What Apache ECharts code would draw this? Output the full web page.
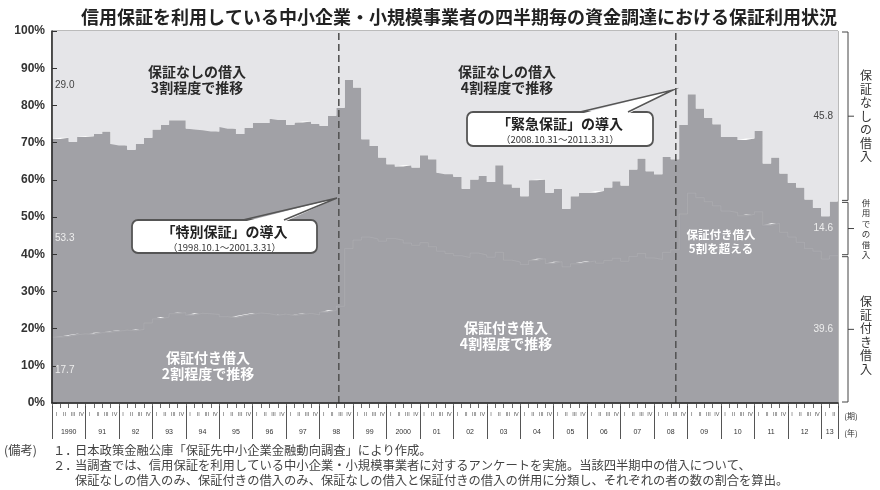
<!DOCTYPE html>
<html>
<head>
<meta charset="utf-8">
<script src="https://cdn.jsdelivr.net/npm/echarts@6/dist/echarts.min.js"></script>
<style>
html, body { margin: 0; padding: 0; background: #fff; }
#chart { width: 880px; height: 490px; }
</style>
</head>
<body>
<div id="chart"></div>
<script>
// Survey years and quarters (the last year only has two quarters so far)
const yearLabels = ['1990','91','92','93','94','95','96','97','98','99','2000','01','02','03','04','05','06','07','08','09','10','11','12','13'];
const quarterLabels = ['I','II','III','IV'];
const quartersInLastYear = 2;

// Share of firms (%) by type of borrowing in each quarter
const guaranteedOnly = [
  17.7,17.9,18.3,18.6,18.4,18.9,19.0,19.3,19.6,19.4,
  19.8,21.5,22.6,23.1,24.0,24.3,23.6,24.1,24.0,23.8,
  23.2,22.9,23.4,23.8,24.2,24.0,23.6,23.9,23.5,23.8,
  24.1,23.7,24.4,24.9,26.0,41.5,43.8,44.6,44.1,43.5,
  44.2,43.8,43.0,42.4,43.1,42.0,40.8,40.2,39.6,39.1,
  40.3,39.8,39.2,40.5,38.4,37.9,37.2,38.3,38.8,37.5,
  38.0,36.6,37.4,37.8,38.2,37.6,38.3,38.9,38.1,39.4,
  40.2,39.0,38.6,40.5,41.2,50.8,56.4,55.2,54.1,53.0,
  51.6,51.2,50.3,50.7,51.4,47.8,48.3,45.9,44.6,43.2,
  41.5,40.8,38.7,39.6
];
const combined = [
  53.3,53.4,51.9,52.9,53.3,53.4,54.0,50.3,49.6,48.7,
  49.9,49.8,50.9,51.7,52.0,51.7,50.2,49.4,49.3,49.2,
  51.0,50.8,48.9,50.1,51.1,51.3,52.8,52.2,51.3,51.6,
  51.6,51.4,50.1,52.3,53.4,45.4,41.0,26.3,25.0,22.5,
  20.0,19.8,20.9,20.9,23.5,23.5,21.1,21.3,21.2,18.5,
  19.8,21.2,20.2,23.4,20.4,20.0,18.4,21.6,21.3,19.0,
  19.6,15.6,18.2,18.7,18.3,19.4,19.6,20.7,20.4,23.4,
  25.5,23.3,22.9,25.7,24.3,23.9,26.6,24.0,22.6,21.9,
  20.0,20.4,20.4,20.4,21.7,16.6,17.7,15.8,14.6,14.7,
  13.2,11.7,11.5,14.6
];
const unguaranteedOnly = [
  29.0,28.7,29.8,28.5,28.3,27.7,27.0,30.4,30.8,31.9,
  30.3,28.7,26.5,25.2,24.0,24.0,26.2,26.5,26.7,27.0,
  25.8,26.3,27.7,26.1,24.7,24.7,23.6,23.9,25.2,24.6,
  24.3,24.9,25.5,22.8,20.6,13.1,15.2,29.1,30.9,34.0,
  35.8,36.4,36.1,36.7,33.4,34.5,38.1,38.5,39.2,42.4,
  39.9,39.0,40.6,36.1,41.2,42.1,44.4,40.1,39.9,43.5,
  42.4,47.8,44.4,43.5,43.5,43.0,42.1,40.4,41.5,37.2,
  34.3,37.7,38.5,33.8,34.5,25.3,17.0,20.8,23.3,25.1,
  28.4,28.4,29.3,28.9,26.9,35.6,34.0,38.3,40.8,42.1,
  45.3,47.5,49.8,45.8
];

// Start of the special / emergency guarantee programmes, on the quarter scale
const programmeStart = [34.3, 74.6];

const categories = [];
yearLabels.forEach((y, i) => {
  const n = i === yearLabels.length - 1 ? quartersInLastYear : 4;
  for (let q = 0; q < n; q++) categories.push(y + '-' + quarterLabels[q]);
});
const quarterCount = categories.length;

// Quarter boundaries (0 .. quarterCount) carry the stepped areas
const boundaries = [];
for (let i = 0; i <= quarterCount; i++) boundaries.push(String(i));
const stepped = arr => arr.concat([arr[arr.length - 1]]);

const DARK = '#a1a1a6';
const LIGHT = '#e5e5e8';
const INK = '#333';
const JP = '"Noto Sans CJK JP", "Noto Sans", sans-serif';
const NUM = '"Liberation Sans", "DejaVu Sans", sans-serif';

const chart = echarts.init(document.getElementById('chart'), null, { renderer: 'canvas' });

function yearLabelAt(v) {
  const k = (v - 2) / 4;
  if (Number.isInteger(k) && k < yearLabels.length - 1) return yearLabels[k];
  if (v === quarterCount - quartersInLastYear / 2) return yearLabels[yearLabels.length - 1];
  return '';
}

function band(name, values, color) {
  return {
    type: 'line', name: name, xAxisIndex: 3, stack: 'share', step: 'end',
    data: stepped(values), symbol: 'none', silent: true,
    lineStyle: { width: 0, opacity: 0 },
    areaStyle: { color: color, opacity: 1 }
  };
}

const series = [
  band('保証付き借入', guaranteedOnly, DARK),
  band('併用での借入', combined, DARK),
  band('保証なしの借入', unguaranteedOnly, LIGHT),
  // faint edge between guaranteed-only and combined borrowing, drawn over both bands
  {
    type: 'line', xAxisIndex: 3, step: 'end', data: stepped(guaranteedOnly),
    symbol: 'none', silent: true, z: 4,
    lineStyle: { color: DARK, width: 2 }
  },
  {
    type: 'line', xAxisIndex: 3, step: 'end', data: stepped(guaranteedOnly),
    symbol: 'none', silent: true, z: 4,
    lineStyle: { color: 'rgba(255,255,255,0.09)', width: 1 }
  }
];
programmeStart.forEach(q => {
  series.push({
    type: 'line', xAxisIndex: 1, data: [[q, 0], [q, 100]], symbol: 'none', silent: true, z: 5,
    lineStyle: { type: [7, 4], color: '#555', width: 1.6 }
  });
});

chart.setOption({
  animation: false,
  backgroundColor: '#fff',
  textStyle: { fontFamily: JP },
  title: {
    text: '信用保証を利用している中小企業・小規模事業者の四半期毎の資金調達における保証利用状況',
    left: 76, top: 3,
    textStyle: { fontSize: 18, fontWeight: 'bold', color: '#222', fontFamily: JP }
  },
  grid: {
    left: 52, right: 42, top: 31, bottom: 87,
    show: true, borderColor: '#777', borderWidth: 1, backgroundColor: 'transparent'
  },
  xAxis: [
    {
      type: 'category', data: categories, boundaryGap: true, z: 6,
      axisLine: { lineStyle: { color: '#222', width: 1.5 } },
      axisTick: { show: true, length: 5, lineStyle: { color: '#444', width: 0.8 } },
      axisLabel: { interval: 0, fontSize: 5.5, color: '#555', margin: 8, fontFamily: NUM,
        formatter: v => v.split('-')[1] },
      splitLine: { show: false }
    },
    {
      type: 'value', min: 0, max: quarterCount, interval: 1, position: 'bottom',
      axisLine: { show: false }, axisTick: { show: false }, splitLine: { show: false },
      axisLabel: { margin: 26, fontSize: 7, color: '#333', fontFamily: NUM, formatter: yearLabelAt }
    },
    {
      type: 'value', min: 0, max: quarterCount, interval: 4, position: 'bottom', offset: 3,
      axisLine: { show: false }, splitLine: { show: false }, axisLabel: { show: false },
      axisTick: { show: true, length: 33, lineStyle: { color: '#555', width: 1 } }
    },
    {
      type: 'category', data: boundaries, boundaryGap: false, show: false
    }
  ],
  yAxis: {
    type: 'value', min: 0, max: 100, interval: 10, z: 6,
    axisLine: { show: true, lineStyle: { color: '#222', width: 1.5 } },
    axisTick: { show: true, inside: true, length: 5, lineStyle: { color: '#333' } },
    splitLine: { show: false },
    axisLabel: { formatter: '{value}%', fontSize: 12, fontWeight: 'bold', color: INK, fontFamily: NUM, margin: 7 }
  },
  series: series
});

// ---- annotations ----
const toY = v => chart.convertToPixel({ yAxisIndex: 0 }, v);
const G = [];
function text(x, y, str, o) {
  o = o || {};
  G.push({
    type: 'text', x: x, y: y, silent: true, z: 20,
    style: {
      text: str, fill: o.fill || INK, fontSize: o.size || 12,
      fontWeight: o.weight || 'normal', fontFamily: o.family || JP,
      align: o.align || 'center', verticalAlign: 'middle',
      lineHeight: o.lh || undefined
    }
  });
}
function line(points, o) {
  o = o || {};
  G.push({ type: 'polyline', silent: true, z: 20, shape: { points: points },
    style: { stroke: o.stroke || '#444', lineWidth: o.w || 1, fill: null } });
}
function callout(box, tail, title, period) {
  G.push({ type: 'rect', silent: true, z: 20,
    shape: { x: box[0], y: box[1], width: box[2], height: box[3], r: 6 },
    style: { fill: '#fff', stroke: '#555', lineWidth: 1.8 } });
  G.push({ type: 'polygon', silent: true, z: 21,
    shape: { points: [[tail[0], box[1] + 2], [tail[1], box[1] + 2], tail[2]] },
    style: { fill: '#fff' } });
  G.push({ type: 'polyline', silent: true, z: 21,
    shape: { points: [[tail[0], box[1]], tail[2], [tail[1], box[1]]] },
    style: { stroke: '#555', lineWidth: 1.5, fill: null } });
  const cx = box[0] + box[2] / 2;
  G.push({ type: 'text', x: cx, y: box[1] + 12, silent: true, z: 22,
    style: { text: title, fill: '#222', fontSize: 14, fontWeight: 'bold', fontFamily: JP, align: 'center', verticalAlign: 'middle' } });
  G.push({ type: 'text', x: cx, y: box[1] + 27, silent: true, z: 22,
    style: { text: period, fill: '#333', fontSize: 9.5, fontFamily: JP, align: 'center', verticalAlign: 'middle' } });
}

// Period notes inside the plot
const headStyle = { size: 14, weight: 'bold', fill: '#2a2a2a', lh: 16 };
const whiteStyle = { size: 14, weight: 'bold', fill: '#fff', lh: 16 };
text(197, 80, '保証なしの借入\n3割程度で推移', headStyle);
text(507, 80, '保証なしの借入\n4割程度で推移', headStyle);
text(208, 366, '保証付き借入\n2割程度で推移', whiteStyle);
text(506, 336, '保証付き借入\n4割程度で推移', whiteStyle);
text(721, 242, '保証付き借入\n5割を超える', { size: 11.5, weight: 'bold', fill: '#fff', lh: 14 });

callout([132, 220, 185, 33], [243, 284, [337, 198]], '「特別保証」の導入', '（1998.10.1～2001.3.31）');
callout([467, 112, 186, 34], [580, 628, [673, 90]], '「緊急保証」の導入', '（2008.10.31～2011.3.31）');

// Shares for the first and last quarters, centred in each band
const first = 0, last = quarterCount - 1;
function shareLabels(i, x, align) {
  const g = guaranteedOnly[i], c = combined[i], u = unguaranteedOnly[i];
  const o = { size: 10, family: NUM, align: align };
  text(x, toY((g + c + 100) / 2), u.toFixed(1), Object.assign({}, o, { fill: '#444' }));
  text(x, toY(g + c / 2), c.toFixed(1), Object.assign({}, o, { fill: '#eee' }));
  text(x, toY(g / 2), g.toFixed(1), Object.assign({}, o, { fill: '#eee' }));
}
shareLabels(first, 55, 'left');
shareLabels(last, 833, 'right');

// Brackets and legend on the right side
const gL = guaranteedOnly[last], cL = combined[last];
const bands = [
  { lo: gL + cL, hi: 100, label: '保証なしの借入', size: 12, lh: 13.5 },
  { lo: gL, hi: gL + cL, label: '併用での借入', size: 8.5, lh: 10.5 },
  { lo: 0, hi: gL, label: '保証付き借入', size: 12, lh: 13.5 }
];
bands.forEach(b => {
  const yt = toY(b.hi) + 1, yb = toY(b.lo) - 1, ym = (yt + yb) / 2;
  line([[842, yt], [848, yt], [848, yb], [842, yb]]);
  line([[848, ym], [854, ym]]);
  text(866, ym + (b.lo === 0 ? 6 : 0), b.label.split('').join('\n'), { size: b.size, lh: b.lh, fill: '#333' });
});
text(851, 416, '(期)', { size: 8, fill: '#333' });
text(851, 433, '(年)', { size: 8, fill: '#333' });

// Notes under the chart
const noteStyle = { size: 12.3, fill: '#444', align: 'left' };
text(4, 450, '(備考)', noteStyle);
text(53, 450, '１．', noteStyle);
text(75, 450, '日本政策金融公庫「保証先中小企業金融動向調査」により作成。', noteStyle);
text(53, 465, '２．', noteStyle);
text(75, 465, '当調査では、信用保証を利用している中小企業・小規模事業者に対するアンケートを実施。当該四半期中の借入について、', noteStyle);
text(75, 480, '保証なしの借入のみ、保証付きの借入のみ、保証なしの借入と保証付きの借入の併用に分類し、それぞれの者の数の割合を算出。', noteStyle);

chart.setOption({ graphic: G });
</script>
</body>
</html>
